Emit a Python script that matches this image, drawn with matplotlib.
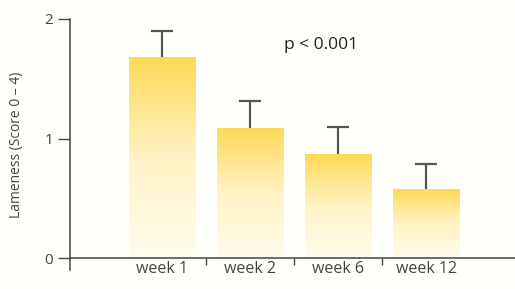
import numpy as np
import matplotlib
matplotlib.use("Agg")
import matplotlib.pyplot as plt
from matplotlib.colors import LinearSegmentedColormap

plt.rcParams['font.family'] = ['Open Sans', 'DejaVu Sans']

weeks = ["week 1", "week 2", "week 6", "week 12"]
lameness = [1.68, 1.09, 0.87, 0.58]
sd = [0.22, 0.22, 0.23, 0.21]

fig = plt.figure(figsize=(5.15, 2.89), dpi=100)
fig.patch.set_facecolor("#fffffb")
ax = fig.add_axes([70/515, 1 - 270/289, 1 - 70/515, (270 - 19)/289])
ax.set_facecolor("none")

x = np.arange(len(weeks))
w = 0.76
cmap = LinearSegmentedColormap.from_list("fade", ["#fffcee", "#fff3c4", "#fed857"])
grad = np.linspace(0, 1, 256).reshape(-1, 1)

bars = ax.bar(x, lameness, width=w, color="none", edgecolor="none", zorder=2)
for b in bars:
    im = ax.imshow(grad, cmap=cmap, origin="lower", aspect="auto",
                   extent=[b.get_x(), b.get_x() + b.get_width(), 0, b.get_height()],
                   zorder=2)
    im.set_clip_path(b)

# upward-only error bars: hide the cap sitting on the bar top
eb = ax.errorbar(x, lameness, yerr=[np.zeros(len(sd)), sd], fmt="none",
                 ecolor="#555555", elinewidth=1.6, capsize=8, capthick=1.6, zorder=3)
for cap in eb[1]:
    if np.allclose(cap.get_ydata(), lameness):
        cap.set_visible(False)

ax.set_xlim(-1.045, 4.01)
ax.set_ylim(-0.1, 2.0)

for s in ["top", "right"]:
    ax.spines[s].set_visible(False)
ax.spines["bottom"].set_position(("data", 0))
ax.spines["left"].set_bounds(-0.1, 2.0)
for s in ["left", "bottom"]:
    ax.spines[s].set_color("#444444")
    ax.spines[s].set_linewidth(1.1)

ax.set_yticks([0, 1, 2])
ax.set_yticklabels(["0", "1", "2"])
ax.tick_params(axis="y", direction="out", length=9, width=1.0, color="#444444",
               labelsize=11, labelcolor="#444444", pad=3)

ax.set_xticks([0.5, 1.5, 2.5])
ax.set_xticklabels([])
ax.tick_params(axis="x", which="major", direction="out", length=5, width=1.0, color="#444444")
ax.set_xticks(x, minor=True)
ax.set_xticklabels(weeks, minor=True)
ax.tick_params(axis="x", which="minor", length=0, labelsize=11.5, labelcolor="#444444", pad=2)

ax.set_ylabel("Lameness (Score 0 – 4)", fontsize=10, color="#444444")
ax.yaxis.set_label_coords(-0.103, 0.5)

ax.text(1.81, 1.78, "p < 0.001", fontsize=12.5, color="#222222", ha="center", va="center")

fig.savefig("out.png", dpi=100)
